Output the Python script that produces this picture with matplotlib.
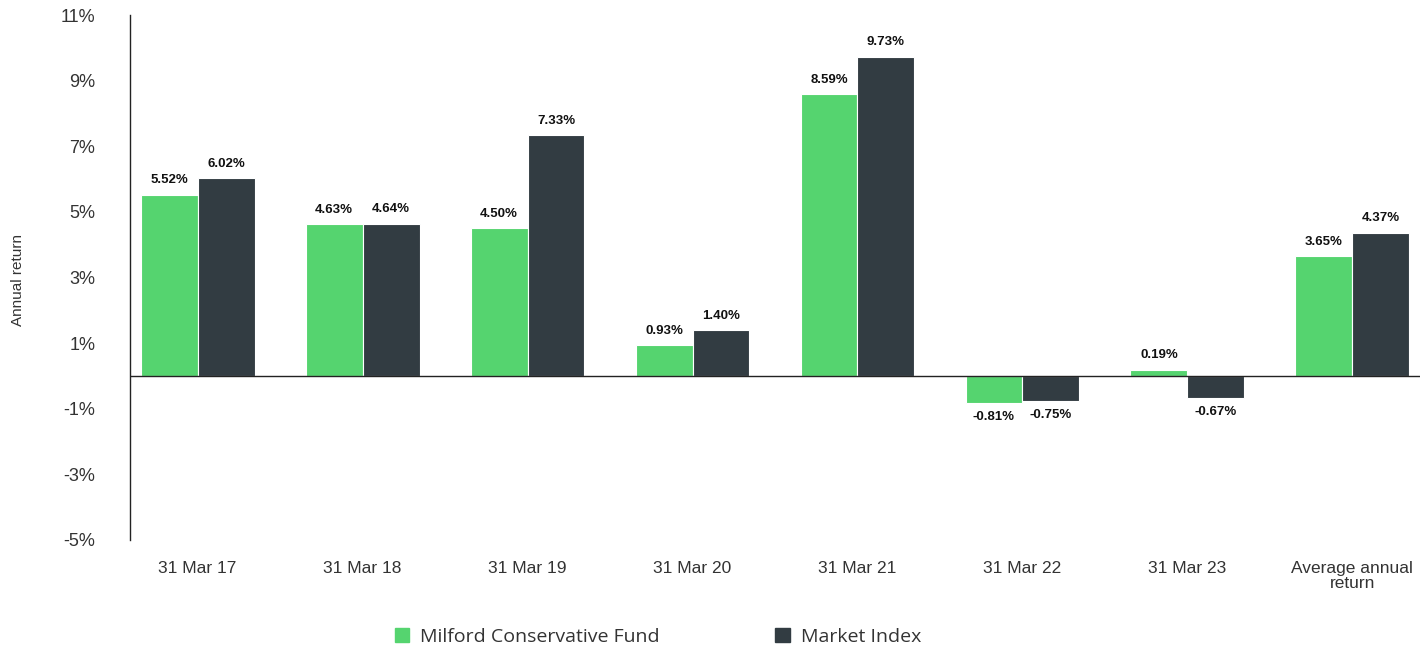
import matplotlib
matplotlib.use("Agg")
import matplotlib.pyplot as plt
import numpy as np
from matplotlib.patches import Patch

categories = ["31 Mar 17", "31 Mar 18", "31 Mar 19", "31 Mar 20", "31 Mar 21",
              "31 Mar 22", "31 Mar 23", "Average annual\nreturn"]
fund = [5.52, 4.63, 4.50, 0.93, 8.59, -0.81, 0.19, 3.65]
index = [6.02, 4.64, 7.33, 1.40, 9.73, -0.75, -0.67, 4.37]
fund_labels = ["5.52%", "4.63%", "4.50%", "0.93%", "8.59%", "-0.81%", "0.19%", "3.65%"]
index_labels = ["6.02%", "4.64%", "7.33%", "1.40%", "9.73%", "-0.75%", "-0.67%", "4.37%"]
yticks = [-5, -3, -1, 1, 3, 5, 7, 9, 11]
series_names = ["Milford Conservative Fund", "Market Index"]

green = "#55d46f"
dark = "#323c42"

fig = plt.figure(figsize=(14.24, 6.46), dpi=100)
ax = fig.add_axes([130/1424, 1-540/646, 1290/1424, 525/646])

x = np.arange(len(categories))
w = 0.345
b1 = ax.bar(x - w/2, fund, w, color=green, edgecolor="white", linewidth=0.8)
b2 = ax.bar(x + w/2, index, w, color=dark, edgecolor="white", linewidth=0.8)

for bars, labels in ((b1, fund_labels), (b2, index_labels)):
    for r, lab in zip(bars, labels):
        h = r.get_height()
        xc = r.get_x() + r.get_width()/2
        if h >= 0:
            ax.annotate(lab, (xc, h), xytext=(0, 6), textcoords="offset points",
                        ha="center", va="bottom", fontsize=9.5, color="#111111",
                        family="Liberation Sans", fontweight="bold")
        else:
            ax.annotate(lab, (xc, h), xytext=(0, -6), textcoords="offset points",
                        ha="center", va="top", fontsize=9.5, color="#111111",
                        family="Liberation Sans", fontweight="bold")

ax.set_xlim(-0.41, 7.41)
ax.set_ylim(-5, 11)
ax.set_yticks(yticks)
ax.set_yticklabels([f"{t}%" for t in yticks], family="Liberation Sans", fontsize=13, color="#333333")
ax.tick_params(axis="y", length=0, pad=25)
ax.set_xticks(x)
ax.set_xticklabels(categories, family="Liberation Sans", fontsize=12.5, color="#333333", linespacing=1.05)
ax.tick_params(axis="x", length=0, pad=15)
for s in ("top", "right", "bottom"):
    ax.spines[s].set_visible(False)
ax.spines["left"].set_color("#222222")
ax.spines["left"].set_linewidth(1)
ax.axhline(0, color="#222222", linewidth=1)

fig.text(18/1424, 1-280/646, "Annual return", rotation=90, ha="center", va="center",
         family="Liberation Sans", fontsize=11, color="#333333")

handles = [Patch(facecolor=green, edgecolor=green), Patch(facecolor=dark, edgecolor=dark)]
fig.legend(handles, series_names, loc="center", bbox_to_anchor=(658/1424, 1-637/646),
           ncol=2, frameon=False, handlelength=0.75, handleheight=0.75,
           columnspacing=5.95, handletextpad=0.55,
           prop={"family": "Open Sans", "size": 14})
for t in fig.legends[0].get_texts():
    t.set_color("#333333")

fig.savefig("out.png", dpi=100)
